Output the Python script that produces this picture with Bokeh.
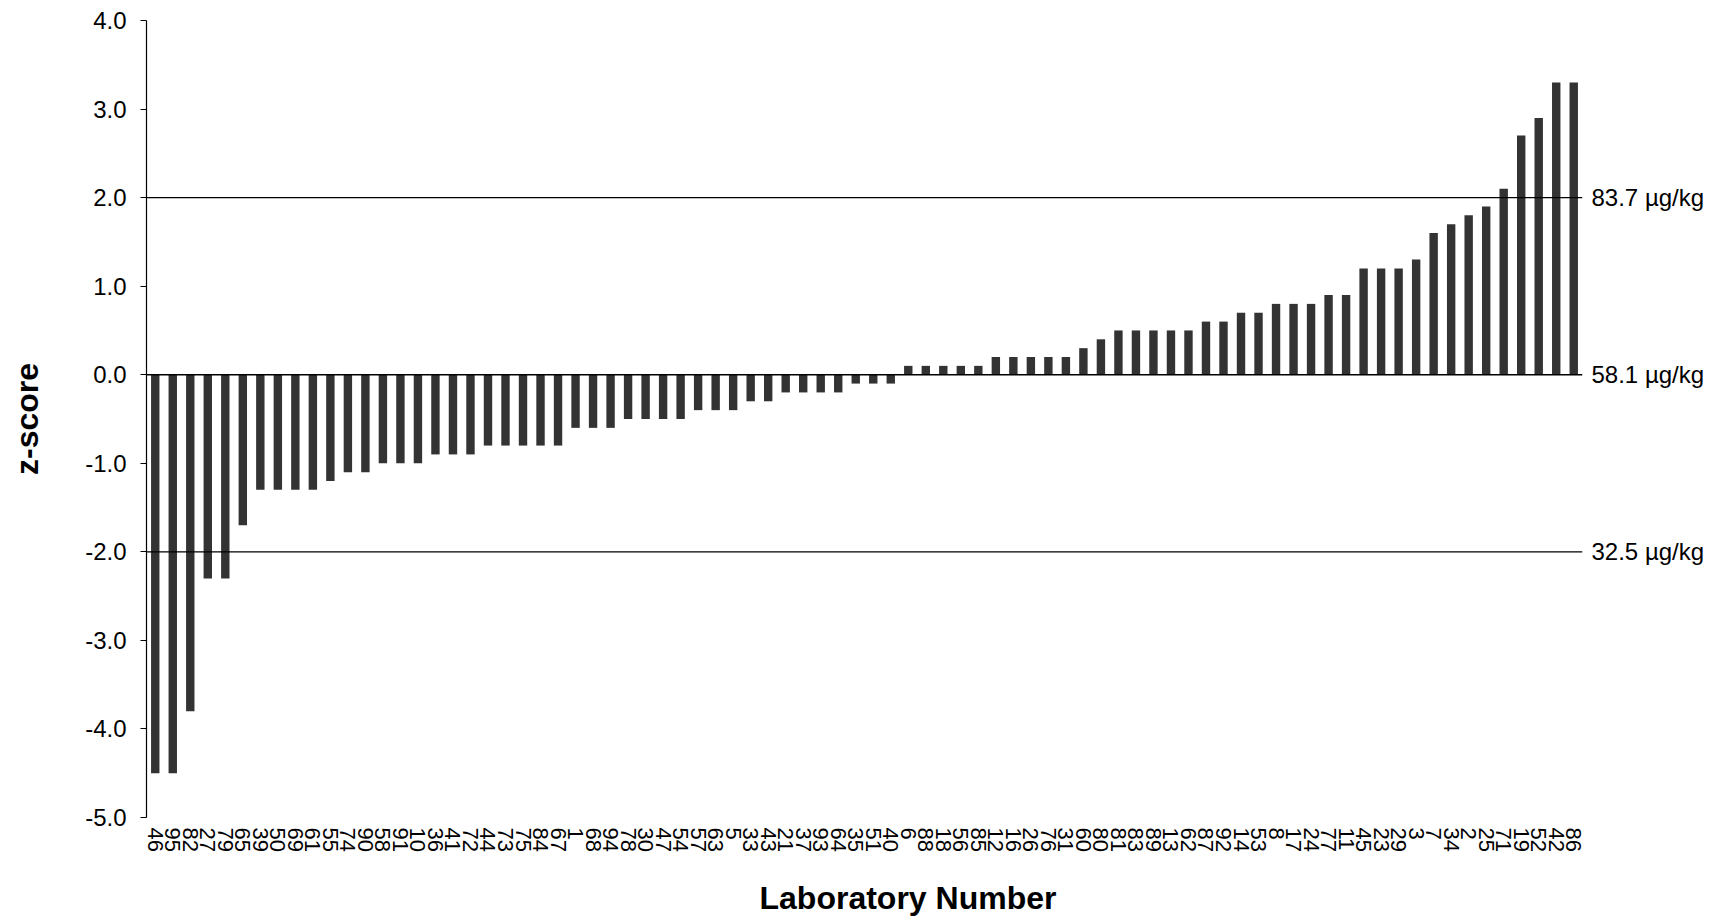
import math
from bokeh.plotting import figure
from bokeh.models import (FactorRange, Range1d, Span, LinearAxis, FixedTicker,
                          NumeralTickFormatter, Title)
from bokeh.embed import file_html
from bokeh.resources import INLINE

# ---- data -------------------------------------------------------------
labs = ["46", "95", "82", "27", "79", "65", "39", "50", "69", "61", "55", "74",
        "90", "58", "91", "10", "36", "41", "72", "44", "73", "75", "84", "67",
        "1", "68", "94", "78", "30", "47", "54", "57", "63", "5", "33", "43",
        "21", "37", "93", "64", "35", "51", "40",
        "6", "88", "18", "56", "85", "12", "16", "26", "76", "31", "60", "80",
        "81", "83", "89", "13", "62", "87", "92", "14", "53", "8", "17", "24",
        "77", "11", "45", "23", "29", "3", "7", "34", "2", "25", "71", "19",
        "52", "42", "86"]
zscores = [-4.5, -4.5, -3.8, -2.3, -2.3, -1.7, -1.3, -1.3, -1.3, -1.3, -1.2,
           -1.1, -1.1, -1.0, -1.0, -1.0, -0.9, -0.9, -0.9, -0.8, -0.8, -0.8,
           -0.8, -0.8, -0.6, -0.6, -0.6, -0.5, -0.5, -0.5, -0.5, -0.4, -0.4,
           -0.4, -0.3, -0.3, -0.2, -0.2, -0.2, -0.2, -0.1, -0.1, -0.1,
           0.1, 0.1, 0.1, 0.1, 0.1, 0.2, 0.2, 0.2, 0.2, 0.2, 0.3, 0.4,
           0.5, 0.5, 0.5, 0.5, 0.5, 0.6, 0.6, 0.7, 0.7, 0.8, 0.8, 0.8,
           0.9, 0.9, 1.2, 1.2, 1.2, 1.3, 1.6, 1.7, 1.8, 1.9, 2.1, 2.7, 2.9,
           3.3, 3.3]
ref_z = [2, 0, -2]
ref_text = ["83.7 \u00b5g/kg", "58.1 \u00b5g/kg", "32.5 \u00b5g/kg"]
y_ticks = [-5, -4, -3, -2, -1, 0, 1, 2, 3, 4]
x_title = "Laboratory Number"
y_title = "z-score"

FONT = "Liberation Sans"

p = figure(x_range=FactorRange(*labs, range_padding=0),
           y_range=Range1d(-5, 4),
           width=1717, height=916,
           output_backend="svg", toolbar_location=None,
           min_border_left=146, min_border_right=135,
           min_border_top=20, min_border_bottom=99)
p.outline_line_color = None
p.xgrid.grid_line_color = None
p.ygrid.grid_line_color = None
p.background_fill_color = "white"
p.border_fill_color = "white"

p.vbar(x=labs, top=zscores, bottom=0, width=0.48,
       fill_color="#333333", line_color=None)

for z in ref_z:
    p.add_layout(Span(location=z, dimension="width", line_color="black",
                      line_width=1.4 if z == 0 else 1.2))

# y axis
ya = p.yaxis[0]
ya.ticker = FixedTicker(ticks=y_ticks)
ya.formatter = NumeralTickFormatter(format="0.0")
ya.axis_line_color = "black"
ya.axis_line_width = 1.2
ya.major_tick_in = 0
ya.major_tick_out = 6
ya.minor_tick_line_color = None
ya.major_tick_line_color = "black"
ya.major_label_text_font = FONT
ya.major_label_text_font_size = "24px"
ya.major_label_text_color = "black"
ya.major_label_standoff = 14
ya.axis_label = y_title
ya.axis_label_text_font = FONT
ya.axis_label_text_font_style = "bold"
ya.axis_label_text_font_size = "32px"
ya.axis_label_text_color = "black"
ya.axis_label_standoff = 37

# x axis (blank axis label used only as spacer above the title)
xa = p.xaxis[0]
xa.axis_line_color = None
xa.major_tick_line_color = None
xa.minor_tick_line_color = None
xa.major_label_orientation = -math.pi / 2
xa.major_label_text_font = FONT
xa.major_label_text_font_size = "22px"
xa.major_label_text_color = "black"
xa.major_label_standoff = 4
xa.axis_label = " "
xa.axis_label_text_font_size = "8px"
xa.axis_label_standoff = 11

# x title (offset to the right as in the reference)
p.add_layout(Title(text=x_title, align="left", offset=613, standoff=0,
                   text_font=FONT, text_font_style="bold",
                   text_font_size="32px", text_color="black"), "below")

# right-hand reference labels
ra = LinearAxis(ticker=FixedTicker(ticks=ref_z),
                major_label_overrides=dict(zip(ref_z, ref_text)))
ra.axis_line_color = None
ra.major_tick_line_color = None
ra.minor_tick_line_color = None
ra.major_label_text_font = FONT
ra.major_label_text_font_size = "24px"
ra.major_label_text_color = "black"
ra.major_label_standoff = 3
p.add_layout(ra, "right")

open("out.html", "w").write(file_html(p, INLINE))
